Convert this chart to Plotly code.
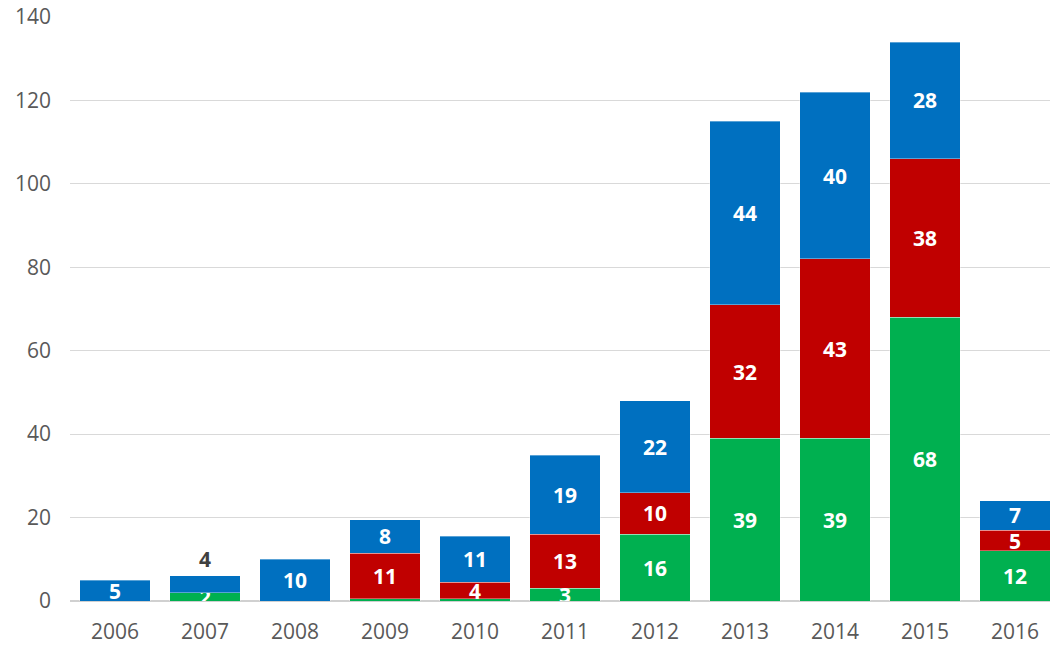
import plotly.graph_objects as go

years = ["2006", "2007", "2008", "2009", "2010", "2011", "2012", "2013", "2014", "2015", "2016"]
green = [0, 2, 0, 0.5, 0.5, 3, 16, 39, 39, 68, 12]
red = [0, 0, 0, 11, 4, 13, 10, 32, 43, 38, 5]
blue = [5, 4, 10, 8, 11, 19, 22, 44, 40, 28, 7]
green_text = ["", "2", "", "", "", "3", "16", "39", "39", "68", "12"]
red_text = ["", "", "", "11", "4", "13", "10", "32", "43", "38", "5"]
blue_text = ["5", "4", "10", "8", "11", "19", "22", "44", "40", "28", "7"]
y_ticks = [0, 20, 40, 60, 80, 100, 120, 140]

LABEL_FAMILY = "Open Sans"
LABEL_SIZE = 21
label_font = dict(family=LABEL_FAMILY, size=LABEL_SIZE, color="white", weight="bold")
edge = dict(width=1, color="rgba(255,255,255,0.35)")

fig = go.Figure()
fig.add_trace(go.Bar(x=years, y=green, text=green_text, marker=dict(color="#00B050", line=edge),
                     textposition="inside", insidetextanchor="middle", textangle=0,
                     textfont=label_font, hoverinfo="x+y"))
fig.add_trace(go.Bar(x=years, y=red, text=red_text, marker=dict(color="#C00000", line=edge),
                     textposition="inside", insidetextanchor="middle", textangle=0,
                     textfont=label_font, hoverinfo="x+y"))
blue_pos = ["outside" if y == "2007" else "inside" for y in years]
blue_col = ["#404040" if y == "2007" else "white" for y in years]
fig.add_trace(go.Bar(x=years, y=blue, text=blue_text, marker=dict(color="#0070C0", line=edge),
                     textposition=blue_pos, insidetextanchor="middle", textangle=0,
                     textfont=dict(family=LABEL_FAMILY, size=LABEL_SIZE, color=blue_col, weight="bold"),
                     cliponaxis=False, hoverinfo="x+y"))

fig.update_layout(
    barmode="stack",
    bargap=0.22,
    width=1050, height=645,
    margin=dict(l=70, r=0, t=17, b=44),
    plot_bgcolor="white", paper_bgcolor="white",
    showlegend=False,
    uniformtext=dict(minsize=LABEL_SIZE, mode="show"),
    font=dict(family="Open Sans", color="#595959", size=21),
)
fig.update_xaxes(type="category", range=[-0.5, 10.39], showgrid=False, showline=False,
                 zeroline=False, ticks="", ticklabelstandoff=16,
                 tickfont=dict(family="Open Sans", size=21, color="#595959"))
fig.update_yaxes(range=[0, 140], tickvals=y_ticks, showgrid=True, gridcolor="#D9D9D9", gridwidth=1,
                 zeroline=True, zerolinecolor="#D0D0D0", zerolinewidth=2, showline=False,
                 ticks="", ticklabelstandoff=18,
                 tickfont=dict(family="Open Sans", size=21, color="#595959"))

fig.write_html("out.html", config={"displayModeBar": False},
               post_script="document.body.style.margin='0';document.body.style.overflow='hidden';")
